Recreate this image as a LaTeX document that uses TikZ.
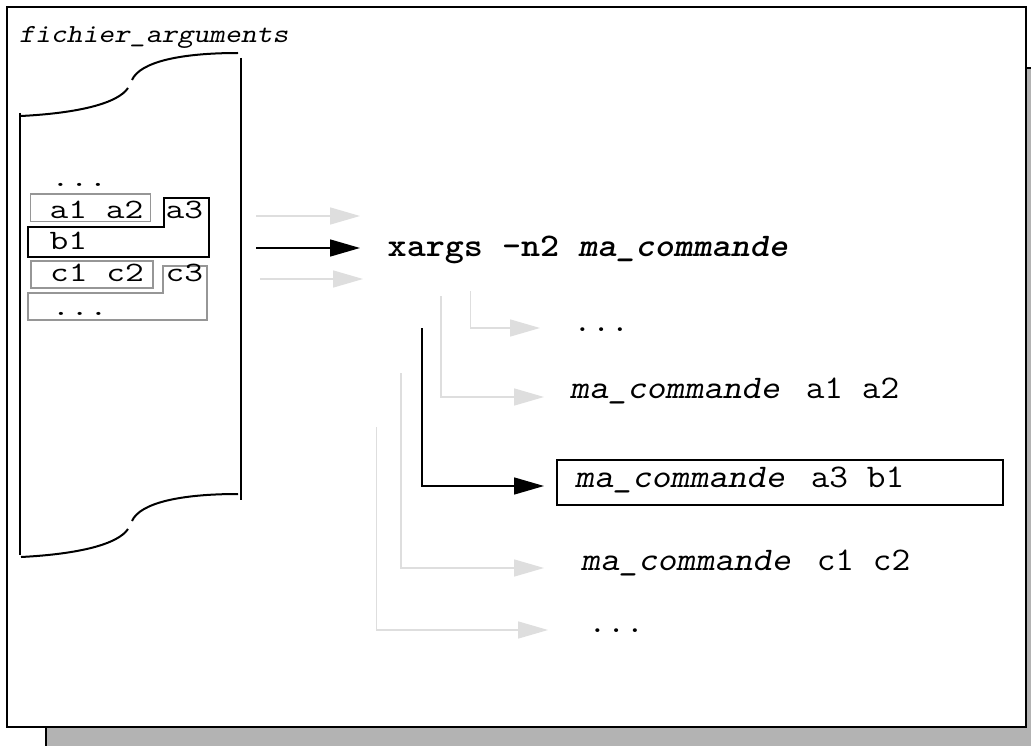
\documentclass[tikz,border=0pt]{standalone}
\usetikzlibrary{arrows.meta}
\definecolor{shadowgray}{RGB}{179,179,179}
\definecolor{softgray}{RGB}{222,222,222}
\definecolor{midgray}{RGB}{150,150,150}
% wide typewriter text, stretched horizontally
\newcommand\widetxt[2]{\scalebox{#1}[1]{#2}}
\begin{document}
\begin{tikzpicture}[x=1pt,y=-1pt,
  txt/.style={anchor=base west, inner sep=0pt, font=\fontsize{33}{38}\selectfont\ttfamily},
  ftxt/.style={anchor=base west, inner sep=0pt, font=\fontsize{28}{32}\selectfont\ttfamily},
  ttl/.style={anchor=base west, inner sep=0pt, font=\fontsize{26}{30}\selectfont\ttfamily\slshape},
  flow/.style={line width=1.5pt, -{Triangle[length=30pt,width=17pt]}},
  live/.style={flow, black},
  idle/.style={flow, softgray},
  fileline/.style={line width=2pt, black, line cap=butt},
  groupbox/.style={line width=1.6pt, midgray},
  curbox/.style={line width=1.6pt, black},
  cmdbox/.style={draw, line width=1.5pt, anchor=north west, inner sep=0pt,
                 minimum width=446pt, minimum height=45pt},
]
\useasboundingbox (0,0) rectangle (1031,746);

% page with drop shadow
\begin{scope}
  \clip (0,0) rectangle (1031,746);
  \draw[fill=shadowgray, line width=2pt] (46,68) rectangle (1070,790);
\end{scope}
\draw[fill=white, line width=2pt] (7,7) rectangle (1026,727);

% title
\node[ttl] (title) at (19,43) {\widetxt{1.16}{fichier\_arguments}};

% the argument file
\draw[fileline] (20,113) -- (20,555);
\draw[fileline] (241,58) -- (241,500);
\foreach \dy in {0,441}{
  \draw[fileline] (21,116+\dy) .. controls (80,113+\dy) and (118,103+\dy) .. (128,88+\dy);
  \draw[fileline] (132,80+\dy) .. controls (140,62+\dy) and (180,53+\dy) .. (238,53+\dy);
}

% argument groups read by xargs
\draw[groupbox] (30.5,194) rectangle (150.5,221.5);
\draw[curbox] (164,198) -- (209,198) -- (209,257) -- (28,257) -- (28,227) -- (164,227) -- cycle;
\draw[groupbox] (31,261) rectangle (153,288);
\draw[groupbox] (163,266) -- (207,266) -- (207,320) -- (28,320) -- (28,293) -- (163,293) -- cycle;

\node[ftxt] (fdotsA) at (51,187) {\widetxt{1.3}{...}};
\node[ftxt] (a12) at (49.5,219) {\widetxt{1.3}{a1 a2}};
\node[ftxt] (a3) at (165.5,219) {\widetxt{1.3}{a3}};
\node[ftxt] (b1) at (49.5,250) {\widetxt{1.3}{b1}};
\node[ftxt] (c12) at (50,281) {\widetxt{1.3}{c1 c2}};
\node[ftxt] (c3) at (165.5,281) {\widetxt{1.3}{c3}};
\node[ftxt] (fdotsB) at (51.5,315) {\widetxt{1.3}{...}};

% xargs
\node[txt] (xargs) at (387.5,257) {\widetxt{1.1}{\bfseries xargs -n2 {\slshape ma\_commande}}};

% arrows from the file to xargs
\coordinate (inA) at (256,216);  \coordinate (inAend) at (360,216);
\coordinate (inB) at (256,248);  \coordinate (inBend) at (360,248);
\coordinate (inC) at (260,279);  \coordinate (inCend) at (363,279);
\draw[idle] (inA) -- (inAend);
\draw[live] (inB) -- (inBend);
\draw[idle] (inC) -- (inCend);

% resulting commands
\node[txt] (rdotsA) at (573,331) {\widetxt{1.1}{...}};
\node[txt] (cmd1) at (570,398) {\widetxt{1.1}{{\slshape ma\_commande}\hspace{0.2em} a1 a2}};
\node[cmdbox] (cmd2box) at (556,459) {};
\node[txt] (cmd2) at (575,487) {\widetxt{1.1}{{\slshape ma\_commande}\hspace{0.2em} a3 b1}};
\node[txt] (cmd3) at (581,570) {\widetxt{1.1}{{\slshape ma\_commande}\hspace{0.2em} c1 c2}};
\node[txt] (rdotsB) at (588,632) {\widetxt{1.1}{...}};

% arrows from xargs to each run
\coordinate (s0) at (470.5,291); \coordinate (e0) at (540,328);
\coordinate (s1) at (441,296);   \coordinate (e1) at (544,397);
\coordinate (s2) at (422,328);   \coordinate (e2) at (544,486);
\coordinate (s3) at (401,373);   \coordinate (e3) at (544,568);
\coordinate (s4) at (376.5,427); \coordinate (e4) at (548,630);
\draw[idle] (s0) |- (e0);
\draw[idle] (s1) |- (e1);
\draw[idle] (s3) |- (e3);
\draw[idle] (s4) |- (e4);
\draw[live] (s2) |- (e2);
\end{tikzpicture}
\end{document}
